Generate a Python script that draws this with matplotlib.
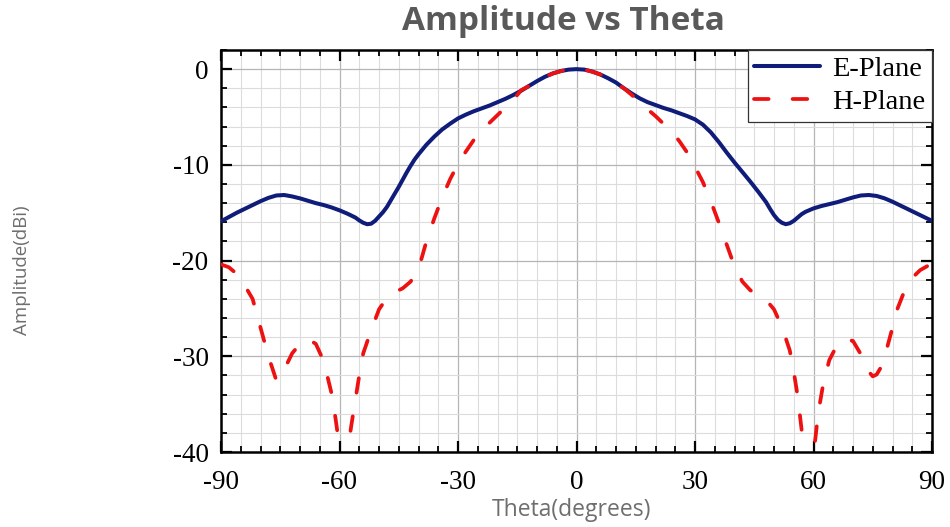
import matplotlib
matplotlib.use("Agg")
import matplotlib.pyplot as plt
from matplotlib.ticker import MultipleLocator

plt.rcParams["axes.unicode_minus"] = False

# ---- data ----
e_theta = [-90, -88, -86, -84, -82, -80, -78, -76, -74, -72, -70, -68, -66, -64, -62, -60, -58, -56, -55,
           -54, -53, -52, -51, -50, -49, -48, -47, -46, -45, -44, -43, -42, -41, -40, -38, -36, -34, -32,
           -30, -28, -26, -24, -22, -20, -18, -16, -14, -12, -10, -8, -6, -4, -2, 0,
           2, 4, 6, 8, 10, 12, 14, 16, 18, 20, 22, 24, 26, 28, 30, 32, 34, 36, 38, 40, 42, 44, 46, 48,
           49, 50, 51, 52, 53, 54, 55, 56, 57, 58, 60, 62, 64, 66, 68, 70, 72, 74, 76, 78, 80, 82, 84, 86,
           88, 90]
e_plane = [-15.9, -15.45, -15.0, -14.6, -14.2, -13.8, -13.45, -13.2, -13.15, -13.3, -13.5, -13.75, -14.0,
           -14.2, -14.45, -14.75, -15.1, -15.5, -15.8, -16.05, -16.2, -16.15, -15.85, -15.4, -14.95,
           -14.4, -13.7, -13.0, -12.3, -11.55, -10.8, -10.1, -9.45, -8.9, -7.9, -7.05, -6.3, -5.7,
           -5.15, -4.75, -4.4, -4.1, -3.8, -3.45, -3.1, -2.7, -2.25, -1.75, -1.25, -0.8, -0.45, -0.2,
           -0.05, 0.0,
           -0.05, -0.25, -0.55, -0.95, -1.4, -2.0, -2.55, -3.05, -3.45, -3.75, -4.05, -4.3, -4.6, -4.9,
           -5.25, -5.8, -6.6, -7.6, -8.7, -9.75, -10.75, -11.75, -12.8, -13.9, -14.6, -15.25, -15.75,
           -16.05, -16.2, -16.1, -15.85, -15.5, -15.15, -14.9, -14.55, -14.3, -14.1, -13.9, -13.65,
           -13.4, -13.2, -13.15, -13.25, -13.5, -13.85, -14.25, -14.65, -15.05, -15.45, -15.85]

h_theta = [-90, -88, -86, -84, -82, -80, -78, -76, -75, -74, -72, -70, -68, -66, -64, -62, -61, -60, -59,
           -58, -57, -56, -55, -54, -52, -50, -48, -46, -44, -42, -40, -38, -36, -34, -32, -30, -28, -26,
           -24, -22, -20, -18, -16, -14, -12, -9, -6, -3, 0,
           3, 6, 9, 12, 14, 16, 18, 20, 22, 24, 26, 28, 30, 32, 34, 36, 38, 40, 42, 44, 46, 48, 50, 52,
           54, 55, 56, 57, 57.5, 59, 60.5, 61.2, 62.5, 64, 66, 68, 70, 72, 74, 75, 76, 77, 78.5, 80, 81,
           83, 85, 87, 90]
h_plane = [-20.4, -20.7, -21.4, -22.6, -24.0, -27.0, -30.0, -32.5, -32.2, -31.4, -29.7, -28.7, -28.2, -28.7,
           -30.5, -33.9, -36.5, -39.5, -43.0, -40.0, -37.2, -34.6, -32.0, -29.7, -27.3, -25.1, -23.9,
           -23.3, -22.9, -22.2, -20.9, -18.0, -15.6, -13.4, -11.5, -9.9, -8.6, -7.4, -6.4, -5.6, -4.8,
           -4.0, -3.2, -2.2, -1.75, -1.0, -0.45, -0.1, 0.0,
           -0.15, -0.55, -1.25, -2.0, -2.7, -3.4, -4.2, -4.9, -5.7, -6.5, -7.5, -8.7, -10.2, -11.8, -13.8,
           -16.0, -18.3, -20.6, -22.2, -23.1, -23.6, -24.1, -25.1, -26.9, -29.4, -31.6, -34.2, -37.7,
           -39.5, -43.5, -38.5, -35.9, -32.8, -30.4, -28.8, -28.2, -28.4, -29.8, -31.6, -32.1, -31.9,
           -31.2, -29.3, -27.0, -25.3, -23.2, -21.8, -21.0, -20.3]

x_ticks = [-90, -60, -30, 0, 30, 60, 90]
y_ticks = [0, -10, -20, -30, -40]

# ---- figure ----
fig = plt.figure(figsize=(9.5, 5.27), dpi=100)
ax = fig.add_axes([221/950, 1-452/527, (932-221)/950, (452-50)/527])

serif = ["Liberation Serif", "DejaVu Serif"]
sans = ["Open Sans", "DejaVu Sans"]

ax.plot(e_theta, e_plane, color="#0f1c7a", lw=2.9, label="E-Plane",
        solid_capstyle="round", solid_joinstyle="round", zorder=3)
ax.plot(h_theta, h_plane, color="#ee1111", lw=2.7, dashes=(3.9, 6.4), dash_capstyle="round",
        dash_joinstyle="round", label="H-Plane", zorder=4)

ax.set_xlim(-90, 90)
ax.set_ylim(-40, 2)
ax.set_xticks(x_ticks)
ax.set_yticks(y_ticks)
ax.xaxis.set_minor_locator(MultipleLocator(5))
ax.yaxis.set_minor_locator(MultipleLocator(2))
ax.grid(which="major", color="#b5b5b5", lw=0.9)
ax.grid(which="minor", color="#dcdcdc", lw=0.8)
ax.set_axisbelow(True)

ax.tick_params(which="both", direction="in", top=True, right=True, labeltop=False, labelright=False)
ax.tick_params(which="major", length=8, width=1.6, labelsize=19.5)
ax.tick_params(axis="y", which="major", pad=9)
ax.tick_params(axis="x", which="major", pad=13)
ax.tick_params(which="minor", length=4.5, width=1.3)
for lab in ax.get_xticklabels() + ax.get_yticklabels():
    lab.set_fontfamily(serif)
for s in ax.spines.values():
    s.set_linewidth(1.8)

leg = ax.legend(loc="upper right", prop={"family": serif, "size": 20.5}, frameon=True, fancybox=False,
                borderaxespad=0.0, handlelength=2.3, borderpad=0.22, labelspacing=0.25,
                handletextpad=0.45, framealpha=1.0)
leg.get_frame().set_edgecolor("#333333")
leg.get_frame().set_linewidth(0.9)

fig.text(563/950, 1-22/527, "Amplitude vs Theta", ha="center", va="center", fontsize=24,
         fontweight="bold", color="#595959", family=sans)
fig.text(572/950, 1-510/527, "Theta(degrees)", ha="center", va="center", fontsize=16.5,
         color="#6e6e6e", family=sans)
fig.text(22/950, 1-270/527, "Amplitude(dBi)", ha="center", va="center", fontsize=13.5, rotation=90,
         color="#6e6e6e", family=sans)

fig.savefig("out.png", dpi=100)
